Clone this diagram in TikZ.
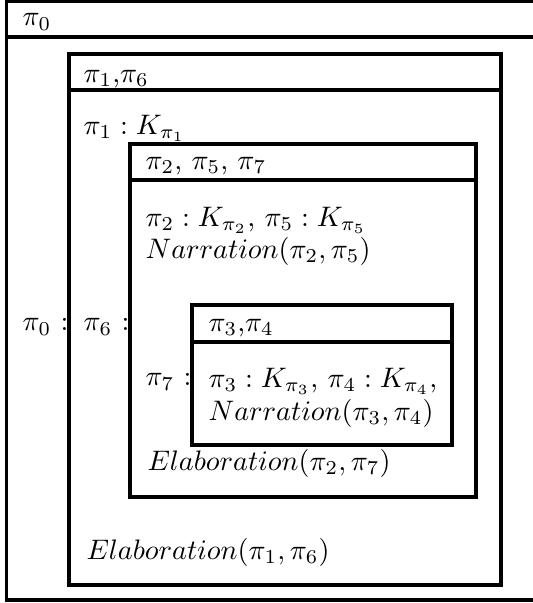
\documentclass[tikz,border=0pt]{standalone}
\usepackage{amsmath,amssymb}
\usetikzlibrary{positioning}

\begin{document}
\begin{tikzpicture}[x=1.246mm,y=1.246mm,
  lbl/.style={anchor=west,inner sep=0pt},
  boxline/.style={line width=1.15pt}]
  \useasboundingbox (0,0) rectangle (53.3,60.3);
  \clip (0,0) rectangle (53.3,60.3);
  % segment boxes: left/top/right/header/bottom
  \foreach \l/\t/\r/\h/\b in {0.65/60.15/54/56.6/0.3, 6.9/54.9/50.1/51.3/1.8,
      13.0/45.9/47.6/42.3/10.6, 19.2/29.8/45.2/26.1/15.8}{
    \draw[boxline] (\l,\b) rectangle (\r,\t);
    \draw[boxline] (\l,\h) -- (\r,\h);
  }
  % outer box
  \node[lbl] (hdr0) at (2.2,58.1) {$\pi_0$};
  \node[lbl] (lab0) at (2.2,27.6) {$\pi_0$ :};
  % pi1, pi6
  \node[lbl] (hdr1) at (8.3,52.4) {$\pi_1$,$\pi_6$};
  \node[lbl] (cond1) at (8.3,47.5) {$\pi_1 : K_{\pi_1}$};
  \node[lbl] (lab6) at (8.3,27.6) {$\pi_6$ :};
  \node[lbl] (rel1) at (8.6,5.1) {$Elaboration(\pi_1,\pi_6)$};
  % pi2, pi5, pi7
  \node[lbl] (hdr2) at (14.5,43.7) {$\pi_2$, $\pi_5$, $\pi_7$};
  \node[lbl] (cond2) at (14.5,38.3) {$\pi_2 : K_{\pi_2}$, $\pi_5 : K_{\pi_5}$};
  \node[lbl] (rel2) at (14.5,35.2) {$Narration(\pi_2,\pi_5)$};
  \node[lbl] (lab7) at (14.5,22.1) {$\pi_7$ :};
  \node[lbl] (rel3) at (14.7,14.0) {$Elaboration(\pi_2,\pi_7)$};
  % pi3, pi4
  \node[lbl] (hdr3) at (20.8,27.5) {$\pi_3$,$\pi_4$};
  \node[lbl] (cond3) at (20.8,22.2) {$\pi_3 : K_{\pi_3}$, $\pi_4 : K_{\pi_4}$,};
  \node[lbl] (rel4) at (20.8,19.0) {$Narration(\pi_3,\pi_4)$};
\end{tikzpicture}
\end{document}
